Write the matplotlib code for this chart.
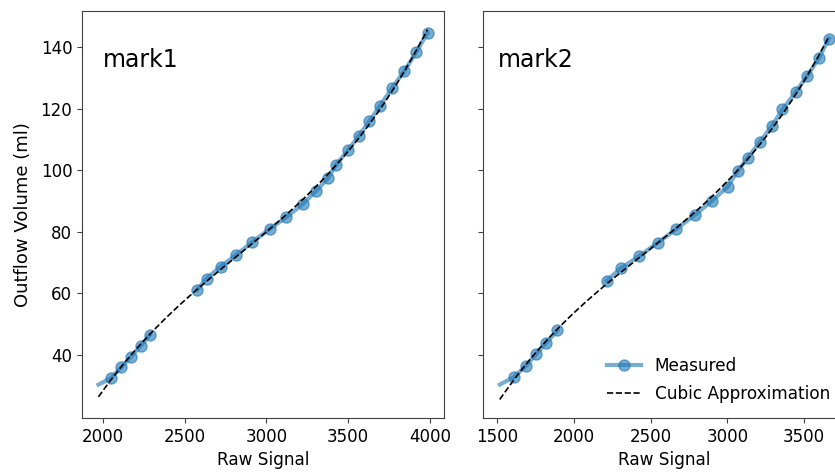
import numpy as np
import matplotlib.pyplot as plt

# Calibration readings: raw sensor signal vs. outflow volume (ml)
# NaN marks the stretch where no measurement was recorded
signal_mark1 = [1973, 2049, 2112, 2171, 2232, 2288, np.nan,
                2577, 2634, 2720, 2817, 2915, 3020, 3122, 3223, 3305, 3376,
                3427, 3498, 3565, 3630, 3695, 3768, 3843, 3918, 3986]
volume_mark1 = [30.4, 32.5, 36.0, 39.4, 43.0, 46.6, np.nan,
                61.2, 64.8, 68.7, 72.6, 76.7, 80.9, 84.7, 89.0, 93.3, 97.3,
                101.8, 106.4, 111.1, 115.9, 120.9, 126.6, 132.1, 138.4, 144.6]

signal_mark2 = [1517, 1608, 1690, 1753, 1820, 1893, np.nan,
                2213, 2304, 2425, 2548, 2667, 2792, 2901, 3002, 3067, 3132,
                3214, 3290, 3359, 3446, 3521, 3597, 3661]
volume_mark2 = [30.4, 32.8, 36.6, 40.3, 44.0, 48.0, np.nan,
                64.1, 68.1, 72.1, 76.5, 80.9, 85.6, 90.1, 94.6, 99.7, 104.0,
                109.3, 114.4, 119.7, 125.4, 130.7, 136.4, 142.7]

FS = 12.2
fig = plt.figure(figsize=(8.35, 4.72), dpi=100)
ax1 = fig.add_axes([0.0982, 0.1144, 0.4335, 0.8623])
ax2 = fig.add_axes([0.5788, 0.1144, 0.4335, 0.8623], sharey=ax1)


def dibujar(ax, signal, volume, nombre, xtext):
    x = np.array(signal, dtype=float)
    y = np.array(volume, dtype=float)
    ax.plot(x, y, '-o', color='#1f77b4', alpha=0.6, lw=3, ms=8,
            markevery=list(range(1, len(x))), label='Measured')
    # cubic fit over the points with markers
    ok = ~np.isnan(x)
    ok[0] = False
    coef = np.polyfit(x[ok], y[ok], 3)
    xs = np.linspace(np.nanmin(x), np.nanmax(x), 200)
    ax.plot(xs, np.polyval(coef, xs), '--', color='black', lw=1.2,
            label='Cubic Approximation')
    ax.text(xtext, 0.91, nombre, transform=ax.transAxes, fontsize=17,
            va='top', ha='left')
    ax.set_xlabel('Raw Signal', fontsize=FS)
    ax.tick_params(labelsize=12, color='0.25')
    for s in ax.spines.values():
        s.set_color('0.25')


dibujar(ax1, signal_mark1, volume_mark1, 'mark1', 0.058)
dibujar(ax2, signal_mark2, volume_mark2, 'mark2', 0.04)

ax1.set_ylabel('Outflow Volume (ml)', fontsize=13)
ax1.yaxis.set_label_coords(-0.138, 0.5)
ax1.set_yticks([40, 60, 80, 100, 120, 140])
ax2.tick_params(labelleft=False)
ax2.legend(loc='lower right', frameon=False, fontsize=FS, labelspacing=0.6)

plt.savefig('out.png', dpi=100)
